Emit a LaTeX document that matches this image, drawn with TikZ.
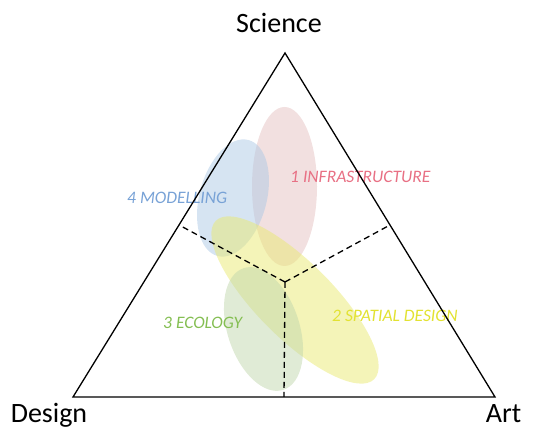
\documentclass[tikz,border=0pt]{standalone}
\usepackage{fontspec}
\setmainfont{Carlito}
\usetikzlibrary{calc}
\definecolor{pinkf}{RGB}{229,193,193}
\definecolor{bluef}{RGB}{173,201,229}
\definecolor{yellowf}{RGB}{233,233,113}
\definecolor{greenf}{RGB}{193,215,173}
\definecolor{pinkt}{RGB}{232,112,132}
\definecolor{bluet}{RGB}{120,162,214}
\definecolor{greent}{RGB}{132,190,82}
\definecolor{yellowt}{RGB}{226,226,50}
\tikzset{
  blob/.style={fill=#1, fill opacity=0.5},
  corner/.style={font=\fontsize{28}{30}\selectfont, inner sep=0pt, anchor=base},
  area/.style={font=\fontsize{17.5}{19}\selectfont\itshape, inner sep=0pt, anchor=base west, text=#1},
  edge/.style={line width=1.3pt, line join=miter},
  split/.style={line width=1.3pt, dash pattern=on 6pt off 4pt}
}
\begin{document}
\begin{tikzpicture}[x=1pt,y=1pt]
\useasboundingbox (0,0) rectangle (533,443);
% ellipses
\fill[blob=pinkf] (284.5,256.5) ellipse [x radius=32.5, y radius=79.5];
\fill[blob=bluef, rotate around={-15:(233,245)}] (233,245) ellipse [x radius=33.6, y radius=60];
\fill[blob=yellowf, rotate around={-45:(295,143)}] (295,143) ellipse [x radius=112, y radius=38];
\fill[blob=greenf, rotate around={18:(263.5,114)}] (263.5,114) ellipse [x radius=36, y radius=64];
% labels
\node[area=pinkt] (infra) at (290,260) {1 INFRASTRUCTURE};
\node[area=bluet] (model) at (127,239) {4 MODELLING};
\node[area=greent] (eco) at (163,114) {3 ECOLOGY};
\node[area=yellowt] (spat) at (332,121) {2 SPATIAL DESIGN};
% triangle
\coordinate (S) at (285,390);
\coordinate (D) at (73,46);
\coordinate (A) at (495,46);
\coordinate (C) at (285,161);
\coordinate (mL) at ($(S)!0.5!(D)$);
\coordinate (mR) at ($(S)!0.5!(A)$);
\coordinate (mB) at ($(D)!0.5!(A)$);
\draw[edge] (S) -- (D) -- (A) -- cycle;
\draw[split] (C) -- (mL);
\draw[split] (C) -- (mR);
\draw[split] (C) -- (mB);
% corner labels
\node[corner] (sci) at (279,410) {Science};
\node[corner] (des) at (49,20) {Design};
\node[corner] (art) at (503.5,20) {Art};
\end{tikzpicture}
\end{document}
